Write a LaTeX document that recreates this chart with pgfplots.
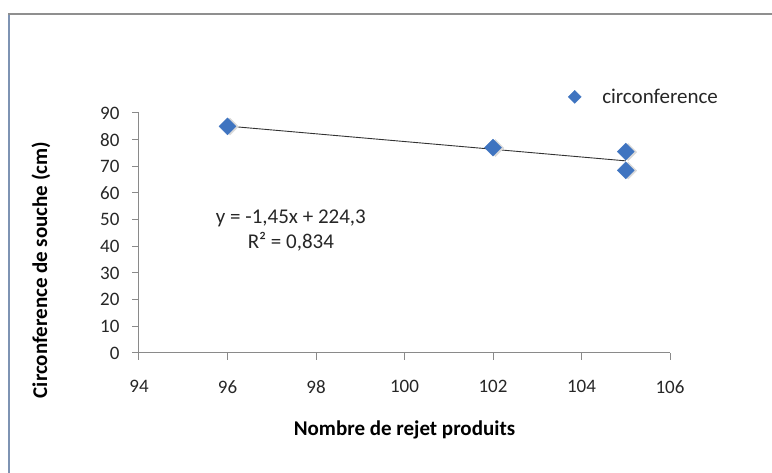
\documentclass[border=0pt]{standalone}
\usepackage{fontspec}
\setmainfont{Carlito}
\usepackage{pgfplots}
\pgfplotsset{compat=1.18}
\definecolor{serblue}{HTML}{3F74C0}
\definecolor{axgray}{HTML}{8A8A8A}
\definecolor{framegray}{HTML}{8F8F8F}
\definecolor{frameblue}{HTML}{7E93B3}

\begin{document}
\begin{tikzpicture}[x=1pt,y=1pt]
\path[use as bounding box] (0,0) rectangle (772,473);
% chart frame, cut by the picture edges
\draw[framegray, line width=2.5pt] (9,-5) -- (9,459) -- (780,459);
\draw[frameblue, line width=2.5pt] (9,-5) -- (9,458);
\begin{axis}[
  at={(139pt,120pt)}, anchor=south west,
  scale only axis, width=531pt, height=240pt,
  xmin=94, xmax=106, ymin=0, ymax=90,
  xtick={94,96,...,106}, ytick={0,10,...,90},
  axis x line*=bottom, axis y line*=left,
  axis line style={axgray, line width=1pt},
  tick style={axgray, line width=1pt}, tick align=outside,
  major tick length=7pt,
  /pgf/number format/assume math mode=true,
  tick label style={font=\fontsize{19}{21}\selectfont, text=black!85},
  xticklabel style={yshift=-17pt},
  yticklabel style={xshift=-9pt},
  xlabel={\bfseries Nombre de rejet produits},
  ylabel={\bfseries Circonference de souche (cm)},
  label style={font=\fontsize{21}{24}\selectfont},
  xlabel style={at={(axis description cs:0.5,-0.32)}, anchor=center},
  ylabel style={at={(axis description cs:-0.1846,0.346)}, anchor=center},
  legend style={at={(axis description cs:0.808,1.067)}, anchor=west,
    draw=none, fill=none, inner sep=0pt, column sep=19pt,
    font=\fontsize{21}{24}\selectfont, text=black!85},
  legend image code/.code={\draw[#1, mark size=4.6pt] plot coordinates {(0pt,0pt)};},
  clip=false,
]
% soft shadow under the markers
\addplot[black!15, only marks, mark=square*, mark size=6pt, forget plot,
  mark options={rotate=45, fill=black!15, draw=black!15, xshift=1.5pt, yshift=-2pt}]
  coordinates {(96,85) (102,77) (105,75.5) (105,68.5)};
\addplot[serblue, only marks, mark=square*, mark size=6pt,
  mark options={rotate=45, fill=serblue, draw=serblue}]
  coordinates {(96,85) (102,77) (105,75.5) (105,68.5)};
\addlegendentry{circonference}
% linear trendline y = -1,45x + 224,3
\addplot[black!80, line width=0.9pt, no marks, forget plot]
  coordinates {(96,85.1) (105,72.05)};
\node[align=center, font=\fontsize{21}{25}\selectfont, text=black!85]
  at (axis description cs:0.286,0.51) {y = -1,45x + 224,3\\R² = 0,834};
\end{axis}
\end{tikzpicture}
\end{document}
